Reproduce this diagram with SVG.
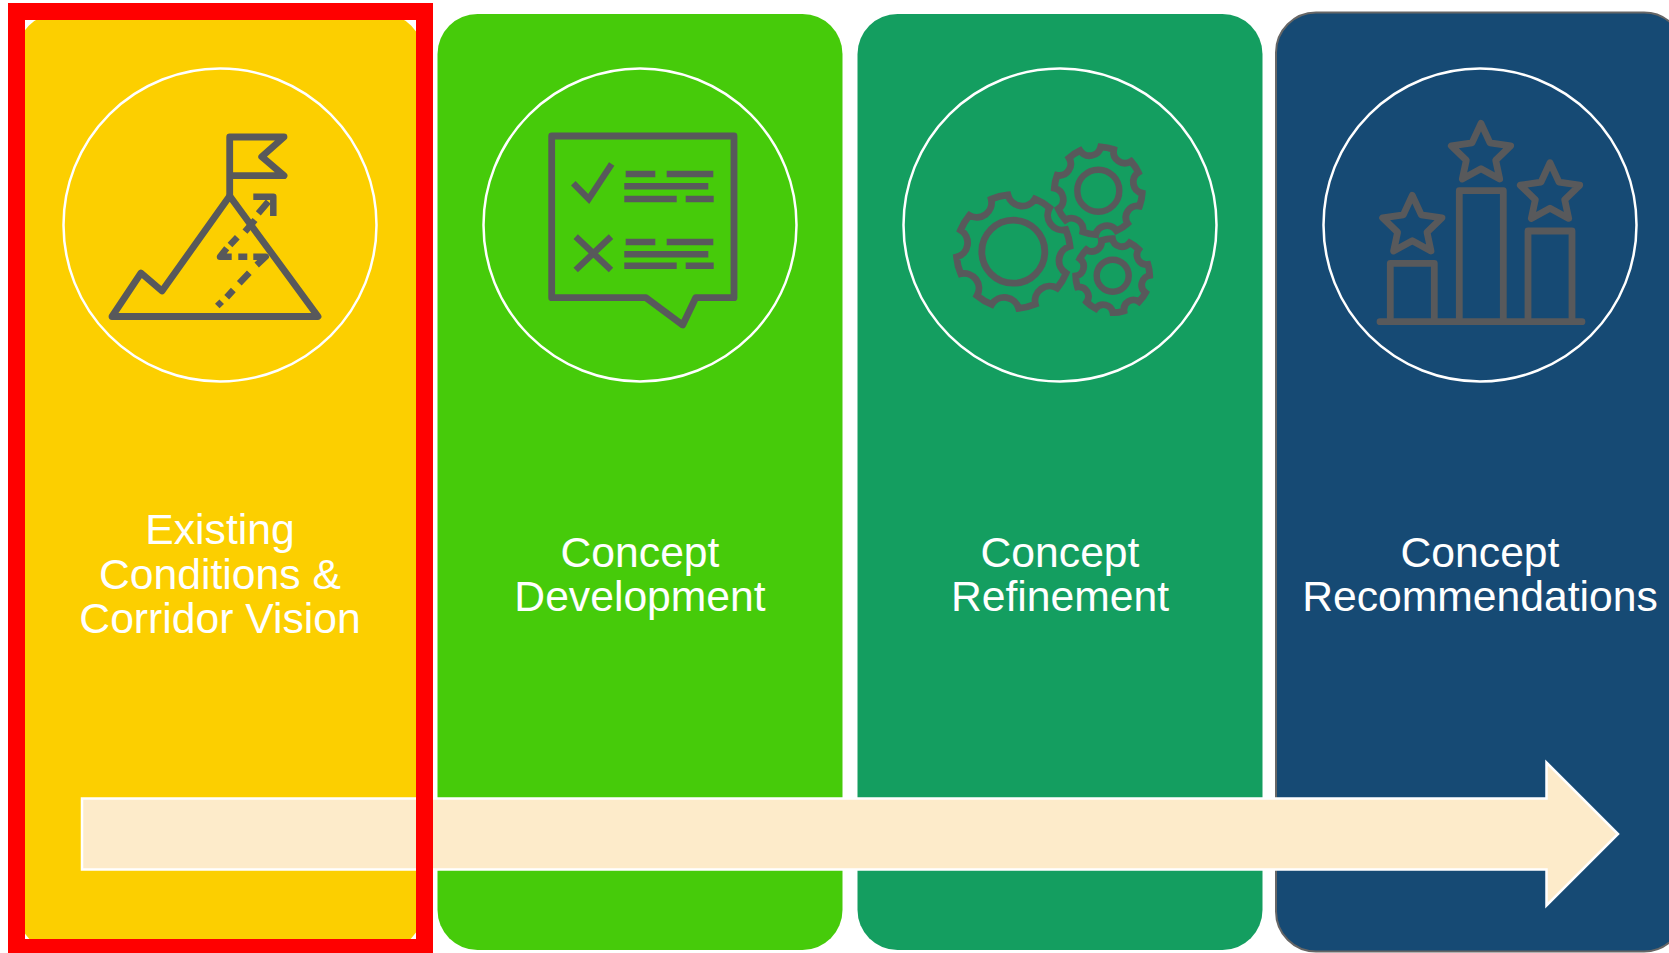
<svg xmlns="http://www.w3.org/2000/svg" width="1669" height="953" viewBox="0 0 1669 953">
<style>
.ring{fill:none;stroke:#fff;stroke-width:2.5}
.ic{fill:none;stroke:#58595B;stroke-width:6.800;stroke-linejoin:round;stroke-linecap:round}
.bar{fill:none;stroke:#58595B;stroke-width:6.400;stroke-linejoin:miter}
.dash{fill:none;stroke:#58595B;stroke-width:6.500;stroke-linejoin:round}
.g{fill:none;stroke:#58595B;stroke-width:6.800;stroke-linejoin:miter;vector-effect:non-scaling-stroke}
.t{font-family:"Liberation Sans",Arial,sans-serif;font-size:42.670px;fill:#fff;text-anchor:middle}
</style>
<defs>
<path id="gear" class="g" d="M97.1,-23.9A26,26 0 0 0 97.1,23.9A100,100 0 0 1 85.5,51.8A26,26 0 0 0 51.8,85.5A100,100 0 0 1 23.9,97.1A26,26 0 0 0 -23.9,97.1A100,100 0 0 1 -51.8,85.5A26,26 0 0 0 -85.5,51.8A100,100 0 0 1 -97.1,23.9A26,26 0 0 0 -97.1,-23.9A100,100 0 0 1 -85.5,-51.8A26,26 0 0 0 -51.8,-85.5A100,100 0 0 1 -23.9,-97.1A26,26 0 0 0 23.9,-97.1A100,100 0 0 1 51.8,-85.5A26,26 0 0 0 85.5,-51.8A100,100 0 0 1 97.1,-23.9Z"/>
<path id="star" class="ic" d="M0,0L9,19.5L29.7,22.5L14.7,37L18.7,55.7L0,45.5L-18.7,55.7L-14.7,37L-29.7,22.5L-9,19.5Z"/>
</defs>
<rect width="1669" height="953" fill="#fff"/>

<g id="card-1">
<rect x="17" y="14" width="406" height="936" rx="40" fill="#FCCF00"/>
<circle class="ring" cx="220" cy="225" r="156.500"/>
<g id="icon-mountain">
<path class="ic" d="M112,316.500L141,273L162,291L229.700,196L318,316.500Z"/>
<path class="ic" d="M229.700,196V137H284L261.700,156.700L284,175.700H229.700"/>
<path class="dash" d="M217.300,306L221.700,301.700M226.700,297.300L233.300,290M239.300,283.300L249.300,272.700M256.700,265L265.700,256.700H253.300M247.300,256.700H238.300M231.700,256.700H220L226.700,248.300M230,245L237.300,237.300M245,231.700L255,220M258.300,213.300L268.300,201.700"/>
<path class="dash" d="M253.300,196.800H273.300V216"/>
</g>
<text class="t" x="220" y="544">Existing</text>
<text class="t" x="220" y="588.500">Conditions &amp;</text>
<text class="t" x="220" y="632.500">Corridor Vision</text>
</g>

<g id="card-2">
<rect x="437.500" y="14" width="405" height="936" rx="40" fill="#46CB0A"/>
<circle class="ring" cx="640" cy="225" r="156.500"/>
<g id="icon-checklist">
<path class="ic" d="M551.700,136H734V297.700H695.700L682.700,325L646,297.700H551.700Z"/>
<path class="bar" d="M573.300,183.300L588.700,199L611.700,164"/>
<path class="bar" d="M575.700,236.700L611,270M611,236.700L575.700,270"/>
<path class="bar" d="M625.700,174H655.300M666.700,174H713.300M624.300,186.300H708.300M624.300,199H676.700M685.700,199H713.700M625.700,242H655.300M666.700,242H713.300M624.300,254.300H708.300M624.300,265.700H676.700M685.700,265.700H713.700"/>
</g>
<text class="t" x="640" y="567">Concept</text>
<text class="t" x="640" y="611">Development</text>
</g>

<g id="card-3">
<rect x="857.500" y="14" width="405" height="936" rx="40" fill="#149E60"/>
<circle class="ring" cx="1060" cy="225" r="156.500"/>
<g id="icon-gears">
<use href="#gear" transform="translate(1013.300,251.700) rotate(8.400) scale(.57)"/>
<circle cx="1013.300" cy="251.700" r="31.500" fill="none" stroke="#58595B" stroke-width="6.800"/>
<use href="#gear" transform="translate(1098.300,190.700) rotate(-10.600) scale(.44)"/>
<circle cx="1098.300" cy="190.700" r="21" fill="none" stroke="#58595B" stroke-width="6.400"/>
<use href="#gear" transform="translate(1112.700,275.700) rotate(13.500) scale(.37)"/>
<circle cx="1112.700" cy="275.700" r="16" fill="none" stroke="#58595B" stroke-width="6.400"/>
</g>
<text class="t" x="1060" y="567">Concept</text>
<text class="t" x="1060" y="611">Refinement</text>
</g>

<g id="card-4">
<rect x="1276" y="12.500" width="408" height="939" rx="40" fill="#164A74" stroke="#666" stroke-width="2"/>
<circle class="ring" cx="1480" cy="225" r="156.500"/>
<g id="icon-podium">
<path class="ic" d="M1390.300,321.700V263.300H1434.300V321.700M1459.300,321.700V190.700H1503.300V321.700M1528,321.700V231H1572V321.700M1380,321.700H1582"/>
<use href="#star" x="1481" y="123.300"/>
<use href="#star" x="1550" y="162.700"/>
<use href="#star" x="1412.300" y="195.300"/>
</g>
<text class="t" x="1480" y="567">Concept</text>
<text class="t" x="1480" y="611">Recommendations</text>
</g>

<g id="connectors">
<path id="arrow" d="M82,798.500H1546.500V762.500L1618,834L1546.500,905.500V869.500H82Z" fill="#FDEBCA" stroke="#fff" stroke-width="2.500"/>
</g>

<rect id="highlight" x="16.500" y="11.500" width="408" height="936" fill="none" stroke="#FF0000" stroke-width="17"/>
<path d="M8,939H433V953H8Z" fill="#FF0000"/>
</svg>
